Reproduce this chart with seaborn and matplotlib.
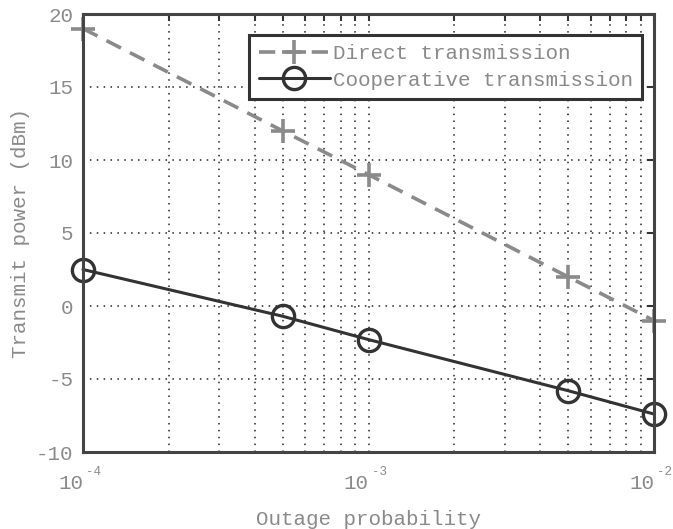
import matplotlib
matplotlib.use("Agg")
import matplotlib.pyplot as plt
import matplotlib.transforms as mtransforms
import seaborn as sns
import pandas as pd
import numpy as np
from matplotlib.ticker import LogLocator, FixedLocator, NullFormatter

outage = [1e-4, 5e-4, 1e-3, 5e-3, 1e-2]
direct_power = [19.0, 12.0, 9.0, 2.0, -1.0]
coop_power = [2.5, -0.7, -2.3, -5.8, -7.4]
y_ticks = [-10, -5, 0, 5, 10, 15, 20]
x_decades = [1e-4, 1e-3, 1e-2]
x_exponents = ["-4", "-3", "-2"]

sns.set_style("white")
plt.rcParams["font.family"] = ["Liberation Mono", "DejaVu Sans Mono"]

df = pd.DataFrame({
    "outage": outage * 2,
    "power": direct_power + coop_power,
    "scheme": ["Direct transmission"] * 5 + ["Cooperative transmission"] * 5,
})

fig = plt.figure(figsize=(6.73, 5.29), dpi=100)
ax = fig.add_axes([83 / 673, 1 - 452 / 529, (654 - 83) / 673, (452 - 14) / 529])

text_grey = "#8a8a8a"
fs = 15
sns.lineplot(data=df[df.scheme == "Direct transmission"], x="outage", y="power",
             ax=ax, color="#8a8a8a", linestyle=(0, (4.5, 2.8)), linewidth=2.6,
             marker="+", markersize=17, markeredgewidth=2.6,
             markeredgecolor="#8a8a8a", clip_on=False,
             label="Direct transmission")
sns.lineplot(data=df[df.scheme == "Cooperative transmission"], x="outage", y="power",
             ax=ax, color="#333333", linestyle="-", linewidth=2.2,
             marker="o", markersize=16, markerfacecolor="none",
             markeredgecolor="#333333", markeredgewidth=2.4, clip_on=False,
             label="Cooperative transmission")

ax.set_xscale("log")
ax.set_xlim(1e-4, 1e-2)
ax.set_ylim(-10, 20)
ax.set_yticks(y_ticks)
ax.set_yticklabels([str(v) for v in y_ticks])
ax.set_xticks(x_decades)
ax.set_xticklabels(["10"] * len(x_decades), ha="right")
ax.xaxis.set_minor_locator(LogLocator(base=10, subs=np.arange(2, 10)))
ax.xaxis.set_minor_formatter(NullFormatter())

grid_kw = dict(color="#222222", linestyle=(0, (1, 3.5)), linewidth=1.1)
ax.grid(True, which="major", axis="both", **grid_kw)
ax.grid(True, which="minor", axis="x", **grid_kw)

for s in ax.spines.values():
    s.set_color("#444444")
    s.set_linewidth(2.2)

ax.tick_params(axis="both", which="both", direction="in", colors="#333333",
               labelcolor=text_grey, labelsize=fs, top=True, right=True,
               length=5, width=1.5)
ax.tick_params(axis="y", pad=7)
ax.tick_params(axis="x", which="major", pad=16)

# superscript exponents beside each decade label
exp_tr = mtransforms.offset_copy(ax.get_xaxis_transform(), fig=fig, x=3, y=-20, units="dots")
for xv, e in zip(x_decades, x_exponents):
    ax.text(xv, 0, e, transform=exp_tr, ha="left", va="center",
            fontsize=9, color=text_grey, clip_on=False)

ax.set_xlabel("Outage probability", color=text_grey, fontsize=fs, labelpad=12)
ax.set_ylabel("Transmit power (dBm)", color=text_grey, fontsize=fs, labelpad=4)

leg = ax.legend(loc="upper right", bbox_to_anchor=(1 - 12 / 571, 1 - 21 / 438),
                borderaxespad=0, fontsize=fs, frameon=True, fancybox=False,
                handlelength=3.4, borderpad=0.45, labelspacing=0.35,
                handletextpad=0.15, numpoints=1)
leg.get_frame().set_edgecolor("#333333")
leg.get_frame().set_linewidth(2.2)
leg.get_frame().set_alpha(1)
for t in leg.get_texts():
    t.set_color(text_grey)

fig.savefig("out.png", dpi=100)
